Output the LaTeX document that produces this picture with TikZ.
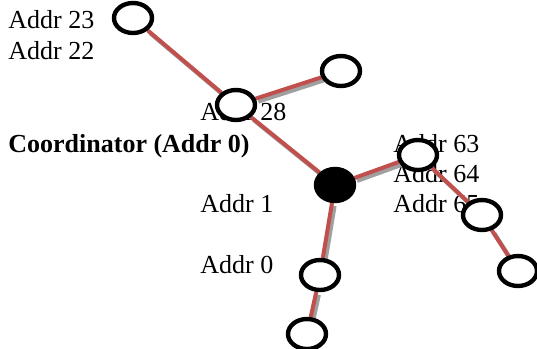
\documentclass[tikz,border=0pt]{standalone}
\usepackage{fontspec}
\setmainfont{Liberation Serif}
\usepackage{tikz}
\usetikzlibrary{shapes.geometric,backgrounds}
\definecolor{linkred}{RGB}{192,80,77}
\definecolor{linkgray}{RGB}{160,160,160}

\begin{document}
\begin{tikzpicture}[x=0.5pt,y=-0.5pt,
    dev/.style={ellipse,draw=black,line width=2.2pt,fill=white,minimum width=19pt,minimum height=15pt,inner sep=0pt},
    coord/.style={dev,fill=black,minimum height=16pt},
    link/.style={draw=linkred,line width=2pt},
    linkshadow/.style={draw=linkgray,line width=2pt,transform canvas={shift={(1.3pt,-1.5pt)}}},
    lbl/.style={anchor=base west,inner sep=0pt,font=\fontsize{13}{15}\selectfont}]
  \useasboundingbox (0,0) rectangle (537,349);
  % devices
  \node[dev] (n23) at (133,18) {};
  \node[dev] (n28) at (236,105) {};
  \node[dev] (n29) at (341,71) {};
  \node[coord] (co) at (335,185) {};
  \node[dev] (n63) at (418,155) {};
  \node[dev] (n65) at (482,215) {};
  \node[dev] (n66) at (518,271) {};
  \node[dev] (n0) at (320,275) {};
  \node[dev] (n0b) at (307,334) {};
  \begin{pgfonlayer}{background}
    % addresses
    \node[lbl] (a23) at (8,28) {Addr 23};
    \node[lbl] (a22) at (8,59) {Addr 22};
    \node[lbl] (a28) at (200,120) {Addr 28};
    \node[lbl] (aco) at (8,152) {\bfseries Coordinator (Addr 0)};
    \node[lbl] (a63) at (393,152) {Addr 63};
    \node[lbl] (a64) at (393,182) {Addr 64};
    \node[lbl] (a65) at (393,212) {Addr 65};
    \node[lbl] (a1) at (200,212) {Addr 1};
    \node[lbl] (a0) at (200,273) {Addr 0};
    % links
    \foreach \u/\v in {n23/n28,n28/n29,n28/co,co/n63,n63/n65,n65/n66,co/n0,n0/n0b}
      \draw[linkshadow] (\u) -- (\v);
    \foreach \u/\v in {n23/n28,n28/n29,n28/co,co/n63,n63/n65,n65/n66,co/n0,n0/n0b}
      \draw[link] (\u) -- (\v);
  \end{pgfonlayer}
\end{tikzpicture}
\end{document}
